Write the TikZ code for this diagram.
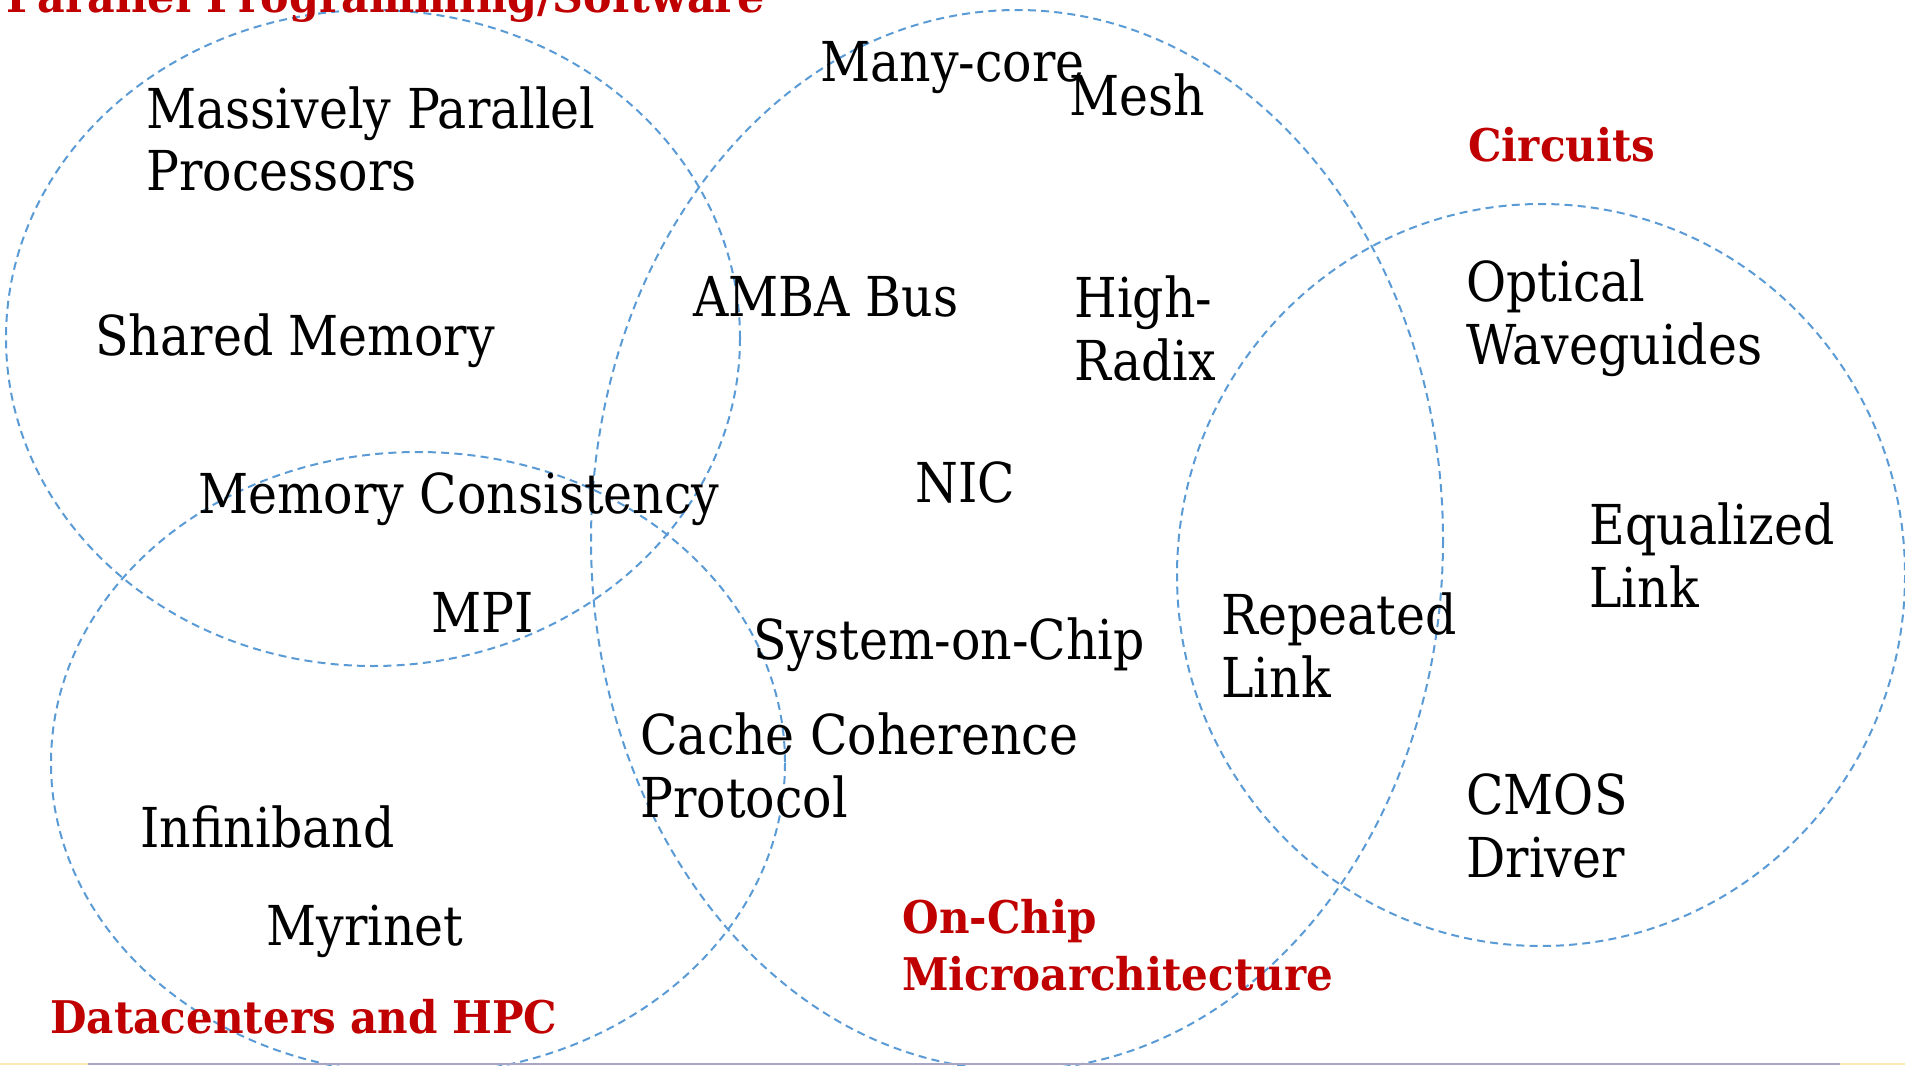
\documentclass[tikz,border=0pt]{standalone}
\usepackage{fontspec}
\setmainfont{DejaVu Serif}
\newfontfamily\itemfont[FakeStretch=0.89]{DejaVu Serif}
\newfontfamily\areafont[FakeStretch=0.935]{DejaVu Serif}
\newfontfamily\topfont[FakeStretch=0.95]{DejaVu Serif}
\definecolor{ring}{HTML}{5B9BD5}
\definecolor{redlab}{HTML}{C00000}
\definecolor{barpurple}{HTML}{A9A5C5}
\definecolor{baryellow}{HTML}{FDE9B5}
\begin{document}
\begin{tikzpicture}[x=0.5pt,y=-0.5pt,
  ringline/.style={draw=ring,line width=1pt,dash pattern=on 4pt off 2.6pt},
  item/.style={anchor=base west,inner sep=0pt,align=left,font=\itemfont\fontsize{27.5pt}{31.5pt}\selectfont,text=black},
  area/.style={anchor=base west,inner sep=0pt,align=left,font=\areafont\fontsize{22.5pt}{28.5pt}\selectfont\bfseries,text=redlab}]
\useasboundingbox (0,0) rectangle (1905,1065);
\begin{scope}
\clip (0,0) rectangle (1905,1065);
\fill[white] (0,0) rectangle (1905,1065);
% circles
\draw[ringline] (373,338) ellipse [x radius=367, y radius=328];
\draw[ringline] (1017,540) ellipse [x radius=426, y radius=530];
\draw[ringline] (418,763) ellipse [x radius=367, y radius=311];
\draw[ringline] (1541,575) ellipse [x radius=364, y radius=371];
% bottom bar
\fill[baryellow] (0,1063) rectangle (1905,1065);
\fill[barpurple] (88,1063) rectangle (1840,1065);
% area labels (anchor = baseline of last line)
\node[area,font=\topfont\fontsize{22.5pt}{28.5pt}\selectfont\bfseries] (pp) at (6,13) {Parallel Programming/Software};
\node[area] (circ) at (1468,162) {Circuits};
\node[area] (onchip) at (902,990) {On-Chip\\Microarchitecture};
\node[area] (dc) at (50,1033) {Datacenters and HPC};
% items (anchor = baseline of last line)
\node[item] (mpp) at (146,191) {Massively Parallel\\Processors};
\node[item] (shm) at (95,355) {Shared Memory};
\node[item] (mc) at (198,513) {Memory Consistency};
\node[item] (mpi) at (431,632) {MPI};
\node[item] (many) at (820,82) {Many-core};
\node[item] (mesh) at (1069,116) {Mesh};
\node[item] (amba) at (693,316) {AMBA Bus};
\node[item] (hr) at (1074,380) {High-\\Radix};
\node[item] (nic) at (915,502) {NIC};
\node[item] (soc) at (753,659) {System-on-Chip};
\node[item] (ccp) at (640,817) {Cache Coherence\\Protocol};
\node[item] (ib) at (140,847) {Infiniband};
\node[item] (myr) at (266,945) {Myrinet};
\node[item] (ow) at (1466,364) {Optical\\Waveguides};
\node[item] (eq) at (1589,607) {Equalized\\Link};
\node[item] (rep) at (1221,697) {Repeated\\Link};
\node[item] (cmos) at (1466,877) {CMOS\\Driver};
\end{scope}
\end{tikzpicture}
\end{document}
